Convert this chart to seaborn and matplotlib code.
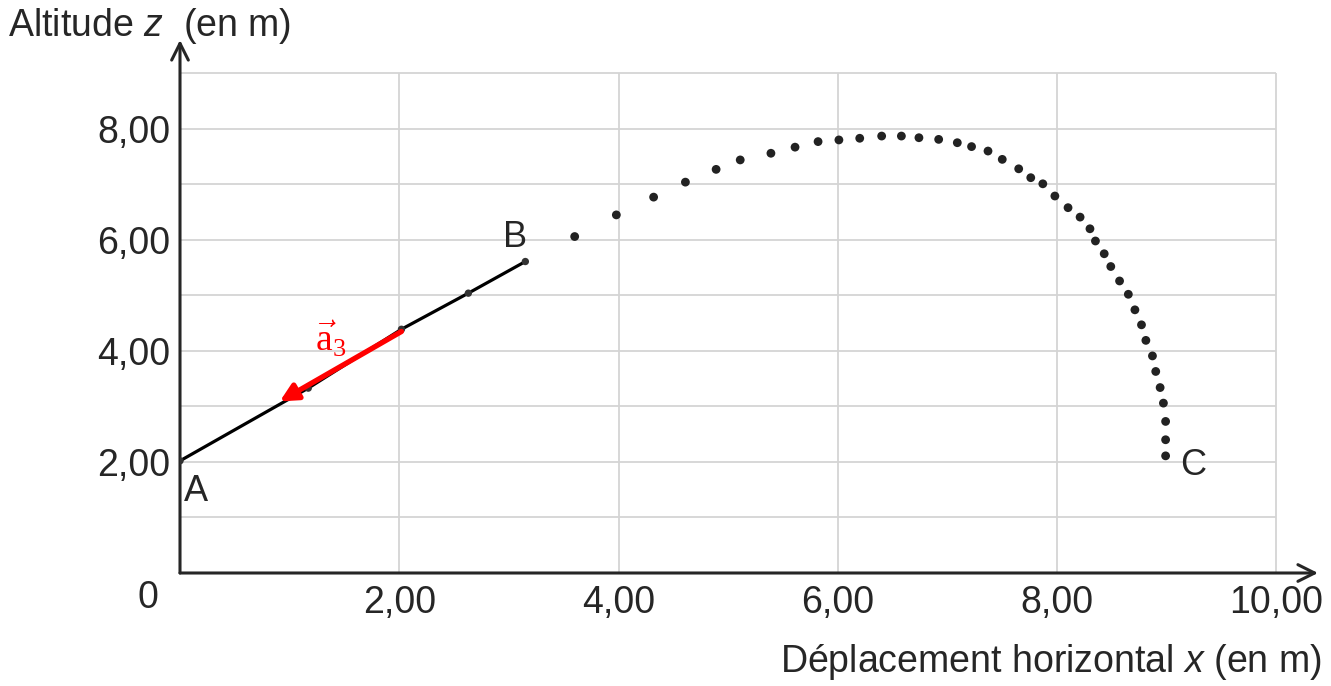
import matplotlib
matplotlib.use("Agg")
import matplotlib.pyplot as plt
import seaborn as sns
import pandas as pd

# segment A -> B (points on the straight part)
x_ab = [0.0, 1.17, 2.02, 2.63, 3.15]
z_ab = [2.02, 3.33, 4.39, 5.04, 5.61]

# free flight B -> C (dotted trajectory)
x_traj = [3.60, 3.98, 4.32, 4.61, 4.89, 5.11, 5.39, 5.61, 5.82, 6.01,
          6.20, 6.40, 6.58, 6.74, 6.92, 7.09, 7.22, 7.37, 7.50, 7.65,
          7.76, 7.87, 7.98, 8.10, 8.21, 8.30, 8.35, 8.43, 8.49, 8.57,
          8.65, 8.71, 8.77, 8.81, 8.87, 8.90, 8.94, 8.97, 8.99, 8.99, 8.99]
z_traj = [6.06, 6.45, 6.77, 7.04, 7.27, 7.44, 7.56, 7.67, 7.77, 7.80,
          7.83, 7.87, 7.87, 7.84, 7.81, 7.75, 7.68, 7.60, 7.45, 7.28,
          7.12, 7.01, 6.79, 6.58, 6.41, 6.20, 5.98, 5.75, 5.52, 5.26,
          5.02, 4.74, 4.47, 4.19, 3.91, 3.63, 3.34, 3.06, 2.73, 2.40, 2.11]

# acceleration vector a3 (tail, head)
arrow_tail = (2.02, 4.35)
arrow_head = (0.91, 3.09)

x_ticks = [2, 4, 6, 8, 10]
x_tick_labels = ["2,00", "4,00", "6,00", "8,00", "10,00"]
y_ticks = [2, 4, 6, 8]
y_tick_labels = ["2,00", "4,00", "6,00", "8,00"]

point_names = ["A", "B", "C"]
point_pos = [(0.15, 1.46), (3.06, 6.04), (9.24, 1.93)]

ink = "#262626"

sns.set_theme(style="white")
plt.rcParams['font.family'] = ['Liberation Sans', 'DejaVu Sans']
plt.rcParams['mathtext.fontset'] = 'custom'
plt.rcParams['mathtext.rm'] = 'Liberation Serif'
plt.rcParams['mathtext.it'] = 'Liberation Sans:italic'

fig = plt.figure(figsize=(13.31, 6.86), dpi=100)
ax = fig.add_axes([180 / 1331, 113 / 686, 1138 / 1331, 533 / 686])
ax.set_xlim(0, 10.38)
ax.set_ylim(0, 9.60)

# squared paper
ax.hlines(range(1, 10), 0, 10, color="#d4d4d4", lw=1.3, zorder=0)
ax.vlines([2, 4, 6, 8, 10], 0, 9, color="#d4d4d4", lw=1.3, zorder=0)

df_ab = pd.DataFrame({"x": x_ab, "z": z_ab})
sns.lineplot(data=df_ab, x="x", y="z", color="black", lw=2.3, ax=ax,
             sort=False, zorder=3)
sns.scatterplot(data=df_ab, x="x", y="z", color="#333333", s=28,
                edgecolor="none", ax=ax, zorder=4)

df_traj = pd.DataFrame({"x": x_traj, "z": z_traj})
sns.scatterplot(data=df_traj, x="x", y="z", color="#222222", s=40,
                edgecolor="none", ax=ax, zorder=4)

ax.annotate("", xy=arrow_head, xytext=arrow_tail,
            arrowprops=dict(arrowstyle="-|>", color="#ff0000", lw=3.8,
                            mutation_scale=26, shrinkA=0, shrinkB=0),
            zorder=5)
ax.text(1.37, 4.22, r"$\vec{\mathrm{a}}_\mathrm{3}$", color="#ff0000",
        fontsize=27, ha="center", va="center")

for name, (px, pz) in zip(point_names, point_pos):
    ax.text(px, pz, name, fontsize=26, color=ink, ha="center", va="center")

# axes with arrow heads
for s in ax.spines.values():
    s.set_visible(False)
ax.annotate("", xy=(10.38, 0), xytext=(0, 0), annotation_clip=False,
            arrowprops=dict(arrowstyle="->", color=ink, lw=2.2,
                            mutation_scale=30, shrinkA=0, shrinkB=0))
ax.annotate("", xy=(0, 9.60), xytext=(0, 0), annotation_clip=False,
            arrowprops=dict(arrowstyle="->", color=ink, lw=2.2,
                            mutation_scale=30, shrinkA=0, shrinkB=0))

ax.set_xticks(x_ticks)
ax.set_xticklabels(x_tick_labels)
ax.set_yticks(y_ticks)
ax.set_yticklabels(y_tick_labels)
ax.tick_params(axis="both", length=0, labelsize=27, labelcolor=ink)
ax.tick_params(axis="x", pad=9)
ax.tick_params(axis="y", pad=7)
ax.set_xlabel("")
ax.set_ylabel("")
ax.text(-0.29, -0.45, "0", fontsize=27, color=ink, ha="center", va="center")

fig.text(8 / 1331, 1 - 26 / 686, "Altitude $z$  (en m)", fontsize=27,
         color=ink, ha="left", va="center")
fig.text(1322 / 1331, 1 - 662 / 686, "Déplacement horizontal $x$ (en m)",
         fontsize=27, color=ink, ha="right", va="center")

fig.savefig("out.png", dpi=100, facecolor="white")
